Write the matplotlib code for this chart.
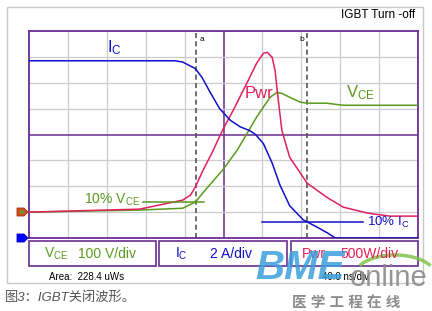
import matplotlib
matplotlib.use("Agg")
import matplotlib.pyplot as plt
from matplotlib.patches import Rectangle, Polygon, Circle, Arc

plt.rcParams['font.family'] = ['Liberation Sans', 'Noto Sans CJK SC', 'DejaVu Sans']
plt.rcParams['mathtext.fontset'] = 'custom'
plt.rcParams['mathtext.rm'] = 'Liberation Sans'
plt.rcParams['mathtext.it'] = 'Liberation Sans'

W, H = 432, 311

# scope settings
ns_per_div = 40.0
vce_per_div = 100.0   # V/div
ic_per_div = 2.0      # A/div
pwr_per_div = 500.0   # W/div
vce_ground = 1.0      # divisions from bottom
pwr_ground = 1.0
ic_ground = 0.0

# collector current (A) vs time (ns)
ic_t = [0, 150, 158, 171, 178, 186, 196, 207, 217, 227, 233, 241, 250, 258, 268, 282, 296, 307, 315, 400]
ic_a = [13.7, 13.7, 13.6, 13.1, 12.4, 11.3, 10.0, 9.1, 8.6, 8.3, 8.0, 7.3, 5.8, 4.1, 2.5, 1.4, 0.85, 0.39, 0.0, 0.0]

# collector-emitter voltage (V)
vce_t = [0, 114, 158, 171, 183, 199, 214, 225, 234, 243, 248, 255, 260, 268, 279, 286, 306, 323, 400]
vce_v = [0, 8, 15, 39, 93, 162, 239, 309, 367, 417, 444, 463, 459, 444, 425, 421, 421, 413, 413]

# power (W)
pwr_t = [0, 114, 158, 166, 171, 179, 188, 199, 210, 224, 234, 241, 245, 250, 253, 256, 260, 268, 286, 306, 323, 348, 371, 400]
pwr_w = [0, 58, 232, 328, 483, 811, 1139, 1583, 1969, 2490, 2876, 3069, 3088, 2992, 2741, 2220, 1583, 1062, 560, 290, 97, -19, -77, -77]

cursor_a = 172
cursor_b = 286
vce_10 = 41.0
ic_10 = 1.24

purple = '#6b2c91'
blue = '#1010c8'
red = '#e0205a'
green = '#5a9a1e'


def fx(x):
    return x / W


def fy(y):
    return 1 - y / H


fig = plt.figure(figsize=(W / 100, H / 100), dpi=100)
fig.patch.set_facecolor('white')

# outer frame
fig.patches.append(Rectangle((fx(7), fy(283)), (423 - 7) / W, (283 - 7) / H,
                             transform=fig.transFigure, fill=False, ec='#c8c8c8', lw=1.0))

ax = fig.add_axes([fx(29), fy(238), (418 - 29) / W, (238 - 31) / H])
ax.set_xlim(0, 10 * ns_per_div)
ax.set_ylim(0, 8)
ax.set_xticks([])
ax.set_yticks([])
for s in ax.spines.values():
    s.set_color(purple)
    s.set_linewidth(1.3)

for i in range(1, 10):
    ax.axvline(i * ns_per_div, color=purple if i == 5 else '#cccccc',
               lw=1.1 if i == 5 else 0.9, zorder=1)
for j in range(1, 8):
    ax.axhline(j, color=purple if j == 4 else '#cccccc',
               lw=1.1 if j == 4 else 0.9, zorder=1)

ax.plot(vce_t, [v / vce_per_div + vce_ground for v in vce_v], color=green, lw=1.1, zorder=3)
ax.plot(pwr_t, [p / pwr_per_div + pwr_ground for p in pwr_w], color=red, lw=1.1, zorder=3)
ax.plot(ic_t, [a / ic_per_div + ic_ground for a in ic_a], color=blue, lw=1.1, zorder=4)

# cursors
for c in (cursor_a, cursor_b):
    ax.axvline(c, color='#555555', lw=1.2, ls=(0, (3, 2)), zorder=2)
ax.text(cursor_a + 3, 7.8, 'a', fontsize=6, va='top', ha='left')
ax.text(cursor_b - 3, 7.8, 'b', fontsize=6, va='top', ha='right')

# 10% markers
ax.plot([117, 180], [vce_10 / vce_per_div + vce_ground] * 2, color=green, lw=1.1, zorder=3)
ax.plot([240, 343], [ic_10 / ic_per_div + ic_ground] * 2, color=blue, lw=1.1, zorder=3)
ax.text(114, 1.47, r'10% V$_{\rm CE}$', color=green, fontsize=10, ha='right', va='center')
ax.text(348, 0.62, r'10% I$_{\rm C}$', color=blue, fontsize=9.5, ha='left', va='center')

ax.text(88, 7.34, r'I$_{\rm C}$', color=blue, fontsize=12, ha='center', va='center')
ax.text(236, 5.6, 'Pwr', color=red, fontsize=12, ha='center', va='center')
ax.text(341, 5.6, r'V$_{\rm CE}$', color=green, fontsize=12, ha='center', va='center')

fig.text(fx(415), fy(15), 'IGBT Turn -off', fontsize=8.5, ha='right', va='center')

# channel reference markers
red_mk = [(17, 208), (24, 208), (28, 212), (24, 216), (17, 216)]
blue_mk = [(17, 234), (24, 234), (28, 238), (24, 242), (17, 242)]
fig.patches.append(Polygon([(fx(x), fy(y)) for x, y in red_mk], closed=True,
                           transform=fig.transFigure, fc='#d2521a', ec='#a03010', lw=0.6))
fig.patches.append(Circle((fx(22), fy(212)), 2.2 / W, transform=fig.transFigure, fc='#5aa02a', ec='none'))
fig.patches.append(Polygon([(fx(x), fy(y)) for x, y in blue_mk], closed=True,
                           transform=fig.transFigure, fc='#0000ff', ec='#0000c0', lw=0.6))

# channel boxes
boxes = [(29, 156), (159, 287), (291, 418)]
for x0, x1 in boxes:
    fig.patches.append(Rectangle((fx(x0), fy(266)), (x1 - x0) / W, 25 / H,
                                 transform=fig.transFigure, fill=False, ec=purple, lw=1.2))
fig.text(fx(44), fy(254), r'V$_{\rm CE}$', color=green, fontsize=10, va='center')
fig.text(fx(78), fy(254), '100 V/div', color=green, fontsize=10, va='center')
fig.text(fx(175), fy(254), r'I$_{\rm C}$', color=blue, fontsize=10, va='center')
fig.text(fx(210), fy(254), '2 A/div', color=blue, fontsize=10, va='center')
fig.text(fx(302), fy(254), 'Pwr', color=red, fontsize=10, va='center')
fig.text(fx(340), fy(254), '500W/div', color=red, fontsize=10, va='center')

fig.text(fx(49), fy(277), 'Area:  228.4 uWs', fontsize=7, va='center')
fig.text(fx(322), fy(277), '40.0 ns/div', fontsize=7, va='center')

# watermark
fig.text(fx(300), fy(268), 'BME', fontsize=29, fontweight='bold', style='italic',
         color='#3c9fdc', alpha=0.85, ha='center', va='center', zorder=10)
fig.text(fx(389), fy(278), 'online', fontsize=21, color='#8a8a8a', alpha=0.9,
         ha='center', va='center', zorder=10)
fig.patches.append(Arc((fx(395), fy(275)), 80 / W, 40 / H, theta1=20, theta2=160,
                       transform=fig.transFigure, color='#7ac040', lw=2.5, alpha=0.8))
fig.text(fx(346), fy(303), '医 学 工 程 在 线', fontsize=10.5, fontweight='bold',
         color='#8c8c8c', ha='center', va='center')

fig.text(fx(5), fy(298), '图3：IGBT关闭波形。', fontsize=9.5, color='#555555',
         style='italic', va='center')

fig.savefig('out.png', dpi=100)
